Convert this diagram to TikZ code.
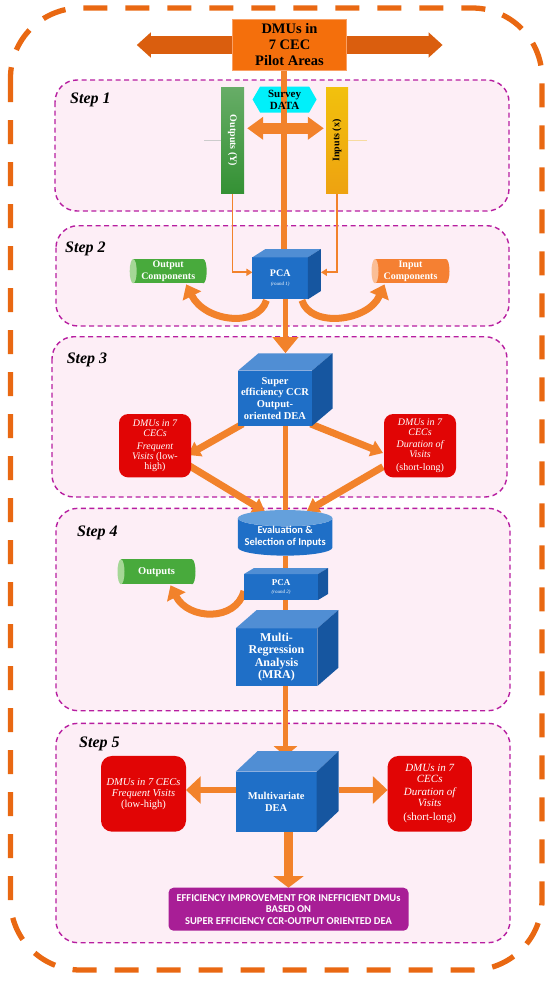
\documentclass[tikz,border=0pt]{standalone}
\usepackage{fontspec}
\setmainfont{Liberation Serif}
\newfontfamily\calibfont{Carlito}
\usetikzlibrary{arrows.meta,shapes.geometric,shapes.symbols,calc}
\definecolor{outerc}{RGB}{233,104,18}
\definecolor{stepc}{RGB}{183,30,160}
\definecolor{stepfill}{RGB}{253,238,246}
\definecolor{arrowc}{RGB}{242,130,43}
\definecolor{bigarrowc}{RGB}{218,94,14}
\definecolor{topc}{RGB}{244,111,12}
\definecolor{topedge}{RGB}{250,160,100}
\definecolor{greenbar}{RGB}{52,145,52}
\definecolor{goldbar}{RGB}{236,166,18}
\definecolor{cyanc}{RGB}{0,240,250}
\definecolor{cubefront}{RGB}{31,111,199}
\definecolor{cubetopc}{RGB}{80,142,212}
\definecolor{cubesidec}{RGB}{22,86,160}
\definecolor{evaltop}{RGB}{100,160,220}
\definecolor{cylgreen}{RGB}{72,170,60}
\definecolor{capgreen}{RGB}{165,215,150}
\definecolor{cylorange}{RGB}{245,128,50}
\definecolor{caporange}{RGB}{250,190,150}
\definecolor{redc}{RGB}{225,5,5}
\definecolor{purplec}{RGB}{168,30,150}
\pgfdeclarelayer{bglayer}
\pgfdeclarelayer{connlayer}
\pgfsetlayers{bglayer,connlayer,main}
\newcommand\cubefaces[3]{%
  \fill[cubetopc] (#1.north west) -- ++(#2,-#3) -- ($(#1.north east)+(#2,-#3)$) -- (#1.north east) -- cycle;
  \fill[cubesidec] (#1.north east) -- ($(#1.north east)+(#2,-#3)$) -- ($(#1.south east)+(#2,-#3)$) -- (#1.south east) -- cycle;}
% horizontal cylinder ends: name, cap colour, body colour, half height
\newcommand\cylends[4]{%
  \fill[#3] (#1.east) ellipse [x radius=3.5pt, y radius=#4pt];
  \fill[#2] (#1.west) ellipse [x radius=3.5pt, y radius=#4pt];}
\tikzset{
  outerframe/.style={draw=outerc, line width=5.3pt, dash pattern=on 24pt off 18pt, rounded corners=70pt},
  stepframe/.style={draw=stepc, line width=1.4pt, dash pattern=on 5pt off 3.5pt, fill=stepfill, rounded corners=22pt},
  steplabel/.style={anchor=base west, font=\fontsize{16}{18}\selectfont\bfseries\itshape, inner sep=0},
  cubebox/.style={fill=cubefront, text=white, inner sep=0, outer sep=0, align=center},
  redbox/.style={fill=redc, text=white, rounded corners=9pt, inner sep=0, outer sep=0, align=center},
  hcylbody/.style={inner sep=0, outer sep=0, text=white, align=center},
  spineline/.style={draw=arrowc, line width=5.5pt},
  fatarrow/.style={draw=arrowc, line width=7pt, -{Triangle[width=16pt,length=12pt]}},
  thinarrow/.style={draw=arrowc, line width=1.8pt, -{Triangle[width=7pt,length=6pt]}},
  curvearrow/.style={draw=arrowc, line width=7pt, -{Triangle[width=20pt,length=13pt]}},
  sidearrow/.style={draw=arrowc, line width=6pt, -{Triangle[width=26.7pt,length=14.7pt]}},
  downarrow/.style={draw=arrowc, line width=8.4pt, -{Triangle[width=30pt,length=11.7pt]}},
}
\begin{document}
\begin{tikzpicture}[x=1pt,y=-1pt]
\useasboundingbox (0,0) rectangle (550,982);
\begin{pgfonlayer}{bglayer}
  \draw[outerframe] (10.5,8) rectangle (542,970);
  \draw[stepframe] (55,80) rectangle (509,211);
  \draw[stepframe] (56,225.7) rectangle (509,326);
  \draw[stepframe] (52,336.7) rectangle (507,497);
  \draw[stepframe] (56,508.3) rectangle (510,710.7);
  \draw[stepframe] (56,723.3) rectangle (510,942.7);
  \node[signal, signal to=east and west, signal pointer angle=120, fill=cyanc, minimum width=64pt, minimum height=26pt, inner sep=0] (survey) at (284.6,99.5) {};
\end{pgfonlayer}

% step labels
\node[steplabel] (s1) at (70,103.3) {Step 1};
\node[steplabel] (s2) at (65,252.3) {Step 2};
\node[steplabel] (s3) at (66.6,363.3) {Step 3};
\node[steplabel] (s4) at (77,536.7) {Step 4};
\node[steplabel] (s5) at (79,747.3) {Step 5};

% top
\node[fill=topc, draw=topedge, line width=0.6pt, minimum width=114pt, minimum height=51.7pt, inner sep=0, align=center, font=\fontsize{14.5}{16}\selectfont\bfseries] (topbox) at (289.5,44.9) {DMUs in\\7 CEC\\Pilot Areas};
\coordinate (bigL) at (136.8,45);
\coordinate (bigR) at (442.6,45);

% step 1
\node[top color=greenbar!75!white, bottom color=greenbar, minimum width=23pt, minimum height=105.6pt, inner sep=0, text=white, font=\fontsize{10}{12}\selectfont\bfseries] (outy) at (232.5,140.5) {\rotatebox{-90}{Outputs (Y)}};
\node[top color=goldbar!70!yellow, bottom color=goldbar!90!orange, minimum width=22pt, minimum height=105.6pt, inner sep=0, text=black, font=\fontsize{10}{12}\selectfont\bfseries] (iny) at (337,140.5) {\rotatebox{90}{Inputs (x)}};
\node[font=\fontsize{11}{12}\selectfont\bfseries, align=center, inner sep=0] (surveytxt) at (survey.center) {Survey\\DATA};

% step 2
\node[cubebox, minimum width=55.5pt, minimum height=42pt, font=\fontsize{10}{11}\selectfont\bfseries] (pca1) at (280.2,278.3) {PCA\\[-2pt]{\fontsize{5}{6}\selectfont\itshape\mdseries (round 1)}};
\cubefaces{pca1}{13}{8.3}
\node[hcylbody, fill=cylgreen, minimum width=70pt, minimum height=24.3pt, font=\fontsize{10}{12}\selectfont\bfseries] (outc) at (168.2,271.2) {Output\\Components};
\cylends{outc}{capgreen}{cylgreen}{12.15}
\node[hcylbody, fill=cylorange, minimum width=71pt, minimum height=24.3pt, font=\fontsize{10}{12}\selectfont\bfseries] (inc) at (410.5,271.2) {Input\\Components};
\cylends{inc}{caporange}{cylorange}{12.15}

% step 3
\node[cubebox, minimum width=74pt, minimum height=55.3pt, font=\fontsize{10.5}{11.7}\selectfont\bfseries] (sup) at (275,398.3) {Super\\efficiency CCR\\Output-\\oriented DEA};
\cubefaces{sup}{20.5}{17.4}
\node[redbox, minimum width=72pt, minimum height=63.3pt, font=\fontsize{10}{9.8}\selectfont] (redA) at (155,445.7) {\itshape DMUs in 7\\\itshape CECs\\[3pt]\itshape Frequent\\{\itshape Visits} (low-\\high)};
\node[redbox, minimum width=72pt, minimum height=63.3pt, font=\fontsize{10}{9.8}\selectfont] (redB) at (420,445.7) {\itshape DMUs in 7\\\itshape CECs\\[3pt]\itshape Duration of\\\itshape Visits\\[3pt](short-long)};

% step 4
\node[cylinder, shape border rotate=90, aspect=0.2, cylinder uses custom fill, cylinder body fill=cubefront, cylinder end fill=evaltop, minimum width=94.5pt, minimum height=40.6pt, inner sep=0, outer sep=0, text=white, align=center, font=\calibfont\fontsize{10.5}{12}\selectfont\bfseries] (eval) at (285.2,537) {Evaluation \&\\Selection of Inputs};
\node[cubebox, minimum width=74pt, minimum height=26pt, font=\fontsize{9}{10}\selectfont\bfseries] (pca2) at (281,587) {PCA\\[-2pt]{\fontsize{5}{6}\selectfont\itshape\mdseries (round 2)}};
\cubefaces{pca2}{10}{6}
\node[hcylbody, fill=cylgreen, minimum width=71pt, minimum height=25pt, font=\fontsize{10.5}{12}\selectfont\bfseries] (outs) at (156.5,571.8) {Outputs};
\cylends{outs}{capgreen}{cylgreen}{12.5}
\node[cubebox, minimum width=81.7pt, minimum height=57.7pt, font=\fontsize{12}{12.5}\selectfont\bfseries] (mra) at (276.5,657.2) {Multi-\\Regression\\Analysis\\(MRA)};
\cubefaces{mra}{21}{18.3}

% step 5
\node[cubebox, minimum width=81pt, minimum height=60pt, font=\fontsize{10.5}{11.5}\selectfont\bfseries] (mv) at (276.2,801.7) {Multivariate\\DEA};
\cubefaces{mv}{22}{20.7}
\node[redbox, rounded corners=11pt, minimum width=85pt, minimum height=75.7pt, font=\fontsize{10.5}{11}\selectfont] (redC) at (143.5,793.8) {\itshape DMUs in 7 CECs\\\itshape Frequent Visits\\(low-high)};
\node[redbox, rounded corners=11pt, minimum width=84.2pt, minimum height=75.7pt, font=\fontsize{11}{10.8}\selectfont] (redD) at (429.7,793.8) {\itshape DMUs in 7\\\itshape CECs\\[2pt]\itshape Duration of\\\itshape Visits\\[4pt](short-long)};
\node[fill=purplec, rounded corners=5pt, minimum width=240pt, minimum height=43pt, inner sep=0, outer sep=0, text=white, align=center, font=\calibfont\fontsize{10.5}{11.5}\selectfont\bfseries] (purple) at (288.5,909.2) {EFFICIENCY IMPROVEMENT FOR INEFFICIENT DMUs\\BASED ON\\SUPER EFFICIENCY CCR-OUTPUT ORIENTED DEA};

% connectors
\begin{pgfonlayer}{connlayer}
  \draw[bigarrowc, line width=17.3pt, {Triangle[width=24.4pt,length=14pt]}-{Triangle[width=24.4pt,length=14pt]}] (bigL) -- (bigR);
  \draw[arrowc, line width=11pt, {Triangle[width=22pt,length=16pt]}-{Triangle[width=22pt,length=16pt]}] ($(outy.east)+(3,-12.2)$) -- ($(iny.west)+(-2,-12.2)$);
  \draw[gray!40, line width=0.6pt] (outy.west) -- ++(-17,0);
  \draw[goldbar!40, line width=0.6pt] (iny.east) -- ++(19,0);
  \coordinate (spA) at (284,0);
  \coordinate (spB) at (285.5,0);
  \draw[spineline] (topbox.south -| spA) -- (pca1.north -| spA);
  \draw[thinarrow] (outy.south) |- ($(pca1.west)+(0,-6)$);
  \draw[thinarrow] (iny.south) |- ($(pca1.east)+(13,-6)$);
  \draw[curvearrow] ($(pca1.south west)+(14,1)$) .. controls (258,328) and (205,322) .. ($(outc.south)+(18,1)$);
  \draw[curvearrow] ($(pca1.south east)+(-6,1)$) .. controls (310,328) and (368,322) .. ($(inc.south)+(-26,1)$);
  \draw[spineline, -{Triangle[width=25pt,length=16pt]}] (pca1.south -| spB) -- ($(sup.north -| spB)+(0,-17.5)$);
  \draw[fatarrow] ($(sup.south west)+(4.7,-2)$) -- ($(redA.east)+(-3,9.3)$);
  \draw[fatarrow] ($(sup.south east)+(-1.3,-2)$) -- ($(redB.west)+(-1,7.3)$);
  \draw[fatarrow] ($(redA.east)+(-3,19.3)$) -- ($(eval.north)+(-20.2,1.6)$);
  \draw[fatarrow] ($(redB.west)+(-1,21)$) -- ($(eval.north)+(21.5,1.3)$);
  \draw[spineline] (sup.south -| spB) -- (eval.north -| spB);
  \draw[spineline] (eval.south -| spB) -- (pca2.north -| spB);
  \draw[curvearrow] ($(pca2.west)+(0,4)$) .. controls (236,622) and (188,620) .. ($(outs.south)+(14,1)$);
  \draw[spineline, -{Triangle[width=13pt,length=9pt]}] (pca2.south -| spB) -- ($(mra.north -| spB)+(0,-4)$);
  \draw[spineline, -{Triangle[width=23pt,length=10pt]}] (mra.south -| spB) -- ($(mv.north -| spB)+(0,-15.5)$);
  \coordinate (mvl) at ($(mv.west)+(0,-11.7)$);
  \coordinate (mvr) at ($(mv.east)+(22,-11.7)$);
  \draw[sidearrow] (mvl) -- (redC.east |- mvl);
  \draw[sidearrow] (mvr) -- (redD.west |- mvr);
  \draw[downarrow] (purple.north |- mv.south) -- (purple.north);
\end{pgfonlayer}
\end{tikzpicture}
\end{document}
